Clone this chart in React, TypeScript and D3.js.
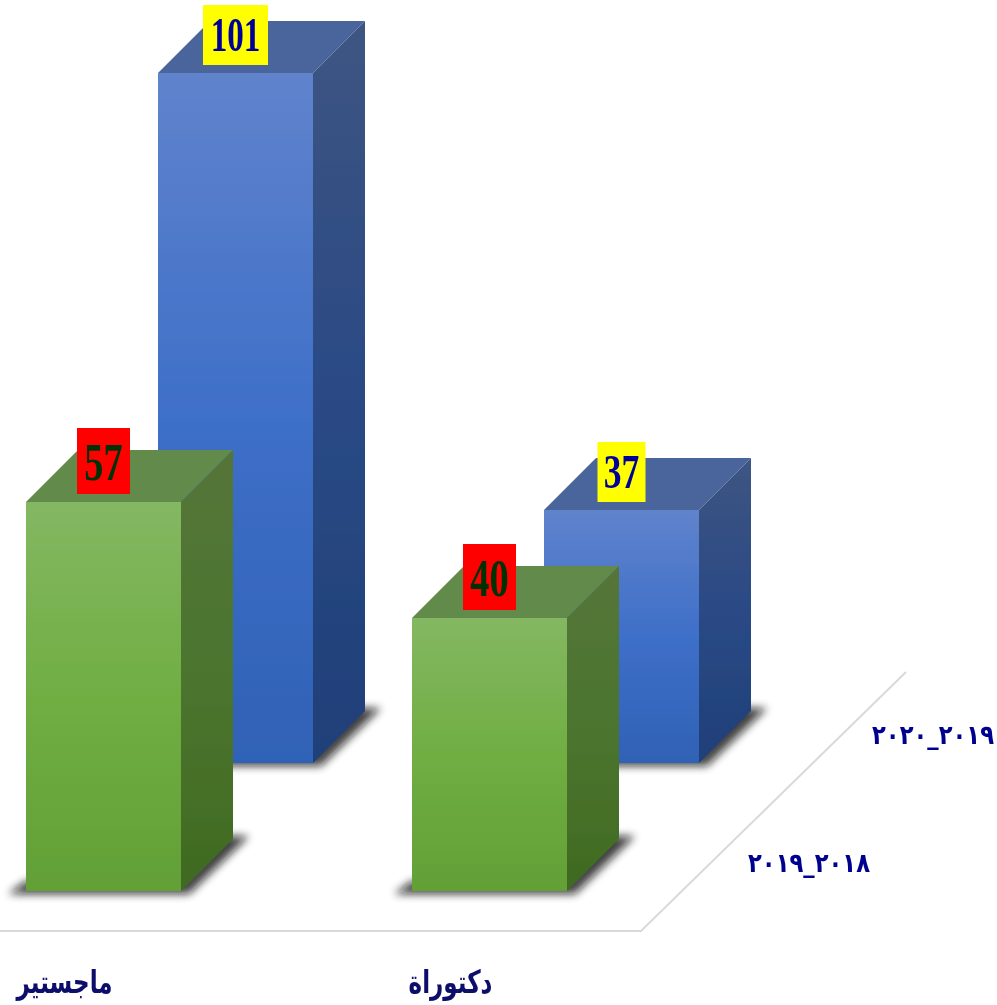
import * as d3 from 'd3';

const categories = ['ماجستير', 'دكتوراة'];
const years = ['٢٠١٨_٢٠١٩', '٢٠١٩_٢٠٢٠'];
const values2018 = [57, 40];
const values2019 = [101, 37];

const WIDTH = 997;
const HEIGHT = 1005;
const BASE_Y = 891;
const DEPTH = 52;
const BAR_WIDTH = 155;

// category -> front-left x of the near row
const xScale = d3.scalePoint<string>().domain(categories).range([26, 412]);
// value -> pixel height
const hScale = d3.scaleLinear().domain([0, 101]).range([0, 690]);
// row -> shift of the bar on the floor
const rowX = d3.scalePoint<string>().domain(years).range([0, 132]);
const rowY = d3.scalePoint<string>().domain(years).range([0, -128]);
const yearLabelX = d3.scalePoint<string>().domain(years).range([809, 933]);
const yearLabelY = d3.scalePoint<string>().domain(years).range([872, 744]);

const floorPath = d3.line()([
  [0, 931],
  [641, 931],
  [906, 672],
]);

const poly = d3.line();

const themes = [
  {
    id: 'g',
    top: '#628b4b',
    front: ['#84b762', '#70ae43', '#62a036'],
    side: ['#557539', '#4c752f', '#3f6a20'],
    boxFill: '#ff0000',
    boxW: 53,
    boxH: 66,
    textFill: '#003300',
    fontSize: 52,
    textDy: 19,
  },
  {
    id: 'b',
    top: '#4a659c',
    front: ['#6083cc', '#3e6fc8', '#2f62b6'],
    side: ['#3e5582', '#2a4a85', '#1f3f78'],
    boxFill: '#ffff00',
    boxW: 48,
    boxH: 60,
    textFill: '#000099',
    fontSize: 48,
    textDy: 16,
  },
];

function Bar({ category, year, value, theme }: { category: string; year: string; value: number; theme: (typeof themes)[number] }) {
  const x0 = (xScale(category) as number) + (rowX(year) as number);
  const x1 = x0 + BAR_WIDTH;
  const yb = BASE_Y + (rowY(year) as number);
  const yt = Math.round(yb - hScale(value));
  const label = String(value);
  const wide = label.length > 2;
  const boxW = wide ? 65 : theme.boxW;
  const cx = (x0 + x1) / 2;
  const boxBottom = yt - 8;

  const shadow = poly([
    [x0 - 18, yb + 3],
    [x1 + 8, yb + 3],
    [x1 + DEPTH + 16, yb - DEPTH - 3],
    [x1 + DEPTH - 10, yb - DEPTH - 3],
    [x1, yb - 10],
    [x0, yb - 10],
  ]);

  return (
    <g>
      <path d={shadow ?? ''} fill="#111111" opacity={0.8} filter="url(#soft)" />
      <path
        d={poly([[x0, yt], [x0 + DEPTH, yt - DEPTH], [x1 + DEPTH, yt - DEPTH], [x1, yt]]) ?? ''}
        fill={theme.top}
      />
      <path
        d={poly([[x1, yt], [x1 + DEPTH, yt - DEPTH], [x1 + DEPTH, yb - DEPTH], [x1, yb]]) ?? ''}
        fill={`url(#side-${theme.id})`}
      />
      <rect x={x0} y={yt} width={BAR_WIDTH} height={yb - yt} fill={`url(#front-${theme.id})`} />
      <rect x={cx - boxW / 2} y={boxBottom - theme.boxH} width={boxW} height={theme.boxH} fill={theme.boxFill} />
      <text
        transform={`translate(${cx},${boxBottom - theme.boxH / 2 + theme.textDy}) scale(${wide ? 0.69 : 0.74},1)`}
        textAnchor="middle"
        fontFamily="'Liberation Serif', serif"
        fontWeight="bold"
        fontSize={theme.fontSize}
        fill={theme.textFill}
      >
        {label}
      </text>
    </g>
  );
}

export default function App() {
  return (
    <svg width={WIDTH} height={HEIGHT} style={{ position: 'absolute', left: 0, top: 0, display: 'block' }}>
      <defs>
        <filter id="soft" x="-30%" y="-30%" width="160%" height="160%">
          <feGaussianBlur stdDeviation="4.5" />
        </filter>
        <filter id="scan" filterUnits="userSpaceOnUse" x="0" y="0" width={WIDTH} height={HEIGHT}>
          <feGaussianBlur stdDeviation="0.5" />
        </filter>
        {themes.map((t) => (
          <g key={t.id}>
            <linearGradient id={`front-${t.id}`} x1="0" y1="0" x2="0" y2="1">
              <stop offset="0" stopColor={t.front[0]} />
              <stop offset="0.5" stopColor={t.front[1]} />
              <stop offset="1" stopColor={t.front[2]} />
            </linearGradient>
            <linearGradient id={`side-${t.id}`} x1="0" y1="0" x2="0" y2="1">
              <stop offset="0" stopColor={t.side[0]} />
              <stop offset="0.5" stopColor={t.side[1]} />
              <stop offset="1" stopColor={t.side[2]} />
            </linearGradient>
          </g>
        ))}
      </defs>

      <g filter="url(#scan)">
        <path d={floorPath ?? ''} fill="none" stroke="#d9d9d9" strokeWidth={2} />

        {/* back row first so the near row overlaps it */}
        {categories.map((c, i) => (
          <Bar key={c + 'b'} category={c} year={years[1]} value={values2019[i]} theme={themes[1]} />
        ))}
        {categories.map((c, i) => (
          <Bar key={c + 'g'} category={c} year={years[0]} value={values2018[i]} theme={themes[0]} />
        ))}

        {categories.map((c) => (
          <text
            key={c}
            transform={`translate(${(xScale(c) as number) + 38.5},993) scale(0.72,1)`}
            textAnchor="middle"
            direction="rtl"
            fontFamily="'DejaVu Sans', sans-serif"
            fontWeight="bold"
            fontSize={32}
            fill="#0a0a6b"
          >
            {c}
          </text>
        ))}

        {years.map((y) => (
          <text
            key={y}
            transform={`translate(${yearLabelX(y)},${yearLabelY(y)}) scale(0.84,1)`}
            textAnchor="middle"
            direction="rtl"
            fontFamily="'DejaVu Sans', sans-serif"
            fontWeight="bold"
            fontSize={27}
            fill="#000090"
          >
            {y}
          </text>
        ))}
      </g>
    </svg>
  );
}
